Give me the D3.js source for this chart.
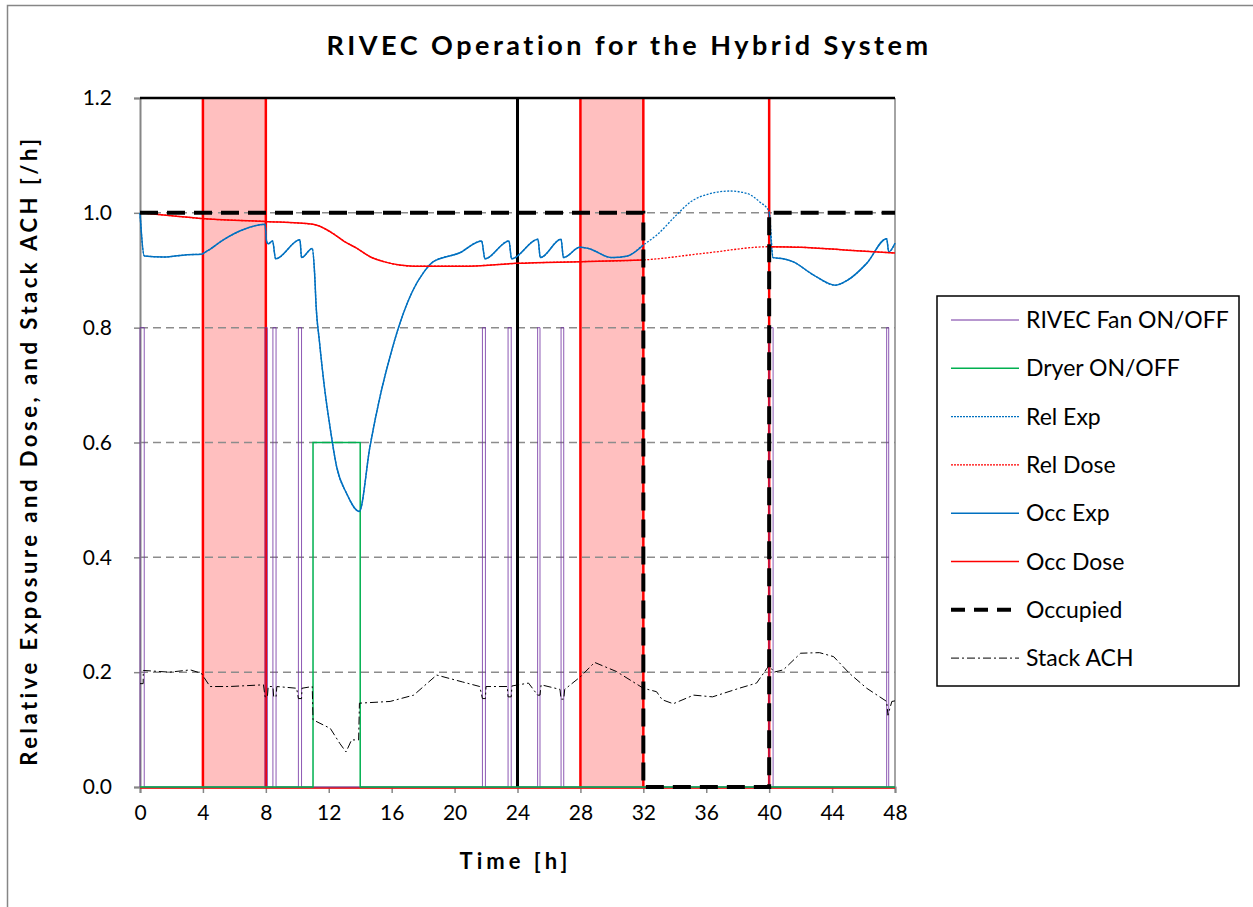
<!DOCTYPE html>
<html>
<head>
<meta charset="utf-8">
<script src="https://cdn.jsdelivr.net/npm/d3@7"></script>
<style>
  body { margin: 0; background: #fff; }
  svg text { font-family: Lato, "Open Sans", sans-serif; fill: #000; }
</style>
</head>
<body>
<div class="canvas"></div>
<script>
// ---- data ----
const xTicks = [0, 4, 8, 12, 16, 20, 24, 28, 32, 36, 40, 44, 48];
const yTicks = [0, 0.2, 0.4, 0.6, 0.8, 1.0, 1.2];

// [time h, value]
const exposure = [
  [0,1.0],[0.27,0.925],[1.5,0.923],[3,0.927],[3.9,0.928],[4.3,0.934],[5.3,0.953],[6.5,0.97],[7.95,0.98],
  [8.05,0.95],[8.15,0.946],[8.43,0.951],[8.62,0.92],[10.17,0.953],[10.27,0.922],[10.95,0.938],
  [11.1,0.895],[11.2,0.836],[11.4,0.778],[11.75,0.691],[12.08,0.627],[12.5,0.558],[13.14,0.511],[13.94,0.48],
  [14.62,0.593],[15.26,0.68],[15.89,0.749],[16.53,0.808],[17.37,0.866],[18,0.895],[18.65,0.915],[20.3,0.93],
  [21.72,0.951],[21.93,0.92],[23.46,0.951],[23.62,0.92],[25.3,0.954],[25.45,0.922],[26.77,0.954],[26.92,0.922],
  [27.97,0.94],[28.5,0.938],[30,0.922],[31,0.925],[32,0.944],[32.84,0.961],[34.1,0.996],[35,1.019],[36.2,1.033],
  [37.5,1.038],[38.57,1.034],[39.4,1.019],[40,1.002],[40.25,0.922],[40.9,0.92],[41.5,0.915],[42.8,0.892],
  [44.2,0.874],[45,0.883],[46.2,0.912],[47.47,0.955],[47.6,0.932],[48,0.947]
];
const dose = [
  [0,1.0],[2,0.995],[3.92,0.99],[7.95,0.985],[11,0.98],[12.1,0.967],[13,0.95],[13.8,0.938],[14.6,0.924],
  [15.5,0.915],[16.5,0.909],[17.4,0.907],[20.5,0.907],[23.95,0.912],[28,0.915],[32,0.918],[36,0.93],
  [40,0.941],[42,0.94],[45,0.935],[48,0.93]
];
const stackAch = [
  [0,0.18],[0.2,0.18],[0.21,0.203],[1.9,0.2],[3.2,0.204],[3.9,0.198],[4.45,0.175],[5.7,0.175],[7.85,0.178],
  [7.95,0.157],[8.1,0.157],[8.15,0.175],[8.45,0.175],[8.5,0.157],[8.65,0.157],[8.7,0.175],[9.96,0.172],
  [10.07,0.154],[10.27,0.154],[10.3,0.172],[10.95,0.175],[11.0,0.117],[12.1,0.102],[12.7,0.076],[13.1,0.061],
  [13.45,0.082],[13.9,0.082],[13.95,0.146],[15.9,0.149],[17.4,0.16],[18.86,0.195],[20.5,0.183],[21.6,0.175],
  [21.77,0.154],[21.96,0.154],[22.0,0.175],[23.35,0.175],[23.4,0.157],[23.6,0.157],[23.65,0.176],[24.7,0.181],
  [25.28,0.16],[25.43,0.16],[25.5,0.178],[26.7,0.17],[26.77,0.153],[26.94,0.153],[27,0.17],[28,0.192],
  [28.9,0.217],[30.3,0.201],[32,0.172],[32.84,0.166],[33.2,0.152],[33.9,0.145],[35.2,0.16],[36.4,0.157],
  [38.1,0.172],[39.2,0.181],[40,0.212],[40.3,0.2],[40.9,0.204],[42,0.233],[43.2,0.234],[44.1,0.227],
  [45.1,0.198],[46.2,0.172],[47.47,0.149],[47.55,0.125],[47.8,0.149],[48,0.15]
];
const fanOn = [[0,0.27],[7.95,8.1],[8.45,8.65],[10.07,10.27],[21.77,21.96],[23.4,23.6],[25.28,25.43],[26.77,26.94],[40.0,40.25],[47.47,47.6]];
const fanLevel = 0.8;
const dryerOn = [[11,14]];
const dryerLevel = 0.6;
const occupied = [[0,1],[32,1],[32,0],[40,0],[40,1],[48,1]];
const shadeBands = [[4,8],[28,32]];
const redMarks = [4, 8, 28, 32, 40];
const blackMarks = [24];

const legendItems = [
  {name:'RIVEC Fan ON/OFF', color:'#7030A0', width:1, dash:null},
  {name:'Dryer ON/OFF', color:'#00B050', width:1.5, dash:null},
  {name:'Rel Exp', color:'#0070C0', width:1.2, dash:'2,1'},
  {name:'Rel Dose', color:'#FF0000', width:1.2, dash:'2,1'},
  {name:'Occ Exp', color:'#0070C0', width:1.5, dash:null},
  {name:'Occ Dose', color:'#FF0000', width:1.5, dash:null},
  {name:'Occupied', color:'#000', width:4, dash:'14,9'},
  {name:'Stack ACH', color:'#000', width:1, dash:'8,3,2,3'}
];

// ---- layout ----
const W = 1253, H = 907;
const plot = {left:140, top:98, width:755, height:689};

const svg = d3.select('.canvas').append('svg')
  .attr('width', W).attr('height', H);

svg.append('rect')
  .attr('x', 7.5).attr('y', 5.5).attr('width', W).attr('height', H)
  .attr('fill', '#fff').attr('stroke', '#868686').attr('stroke-width', 1.5);

const x = d3.scaleLinear().domain([0, 48]).range([0, plot.width]);
const y = d3.scaleLinear().domain([0, 1.2]).range([plot.height, 0]);

const graph = svg.append('g').attr('transform', `translate(${plot.left},${plot.top})`);

// step series from on/off intervals
const pulses = (ons, level) => {
  const pts = [[0, 0]];
  ons.forEach(([a, b]) => { pts.push([a, 0], [a, level], [b, level], [b, 0]); });
  pts.push([48, 0]);
  return pts;
};

// shaded bands
graph.selectAll('rect.band').data(shadeBands).enter().append('rect')
  .attr('class', 'band')
  .attr('x', d => x(d[0])).attr('y', y(1.2))
  .attr('width', d => x(d[1]) - x(d[0])).attr('height', y(0) - y(1.2))
  .attr('fill', '#FFBFBF');

// gridlines
graph.selectAll('line.grid').data(yTicks.filter(v => v > 0 && v < 1.2)).enter().append('line')
  .attr('class', 'grid')
  .attr('x1', 0).attr('x2', plot.width)
  .attr('y1', d => y(d)).attr('y2', d => y(d))
  .attr('stroke', '#8c8c8c').attr('stroke-width', 1.5).attr('stroke-dasharray', '8,5');

// right frame
graph.append('line')
  .attr('x1', plot.width).attr('x2', plot.width).attr('y1', 0).attr('y2', plot.height)
  .attr('stroke', '#868686').attr('stroke-width', 1.5);

// axes
const xAxis = graph.append('g').attr('transform', `translate(0,${plot.height})`)
  .call(d3.axisBottom(x).tickValues(xTicks).tickSize(6).tickPadding(12).tickFormat(d3.format('d')));
const yAxis = graph.append('g')
  .call(d3.axisLeft(y).tickValues(yTicks).tickSize(6).tickPadding(22).tickFormat(d3.format('.1f')));
[xAxis, yAxis].forEach(a => {
  a.select('.domain').attr('stroke', '#868686').attr('stroke-width', 2);
  a.selectAll('.tick line').attr('stroke', '#868686').attr('stroke-width', 1.5);
  a.selectAll('text').attr('font-size', 21).attr('fill', '#000');
});

const line = d3.line().x(d => x(d[0])).y(d => y(d[1]));
const smooth = d3.line().x(d => x(d[0])).y(d => y(d[1])).curve(d3.curveMonotoneX);

// red and black markers
graph.append('line')
  .attr('x1', 0).attr('x2', plot.width).attr('y1', y(0) + 1).attr('y2', y(0) + 1)
  .attr('stroke', '#FF0000').attr('stroke-width', 1.5);
graph.selectAll('line.red').data(redMarks).enter().append('line')
  .attr('class', 'red')
  .attr('x1', d => x(d)).attr('x2', d => x(d)).attr('y1', y(0)).attr('y2', y(1.2))
  .attr('stroke', '#FF0000').attr('stroke-width', 2.5);
graph.selectAll('line.blk').data(blackMarks).enter().append('line')
  .attr('class', 'blk')
  .attr('x1', d => x(d)).attr('x2', d => x(d)).attr('y1', y(0)).attr('y2', y(1.2))
  .attr('stroke', '#000').attr('stroke-width', 3);
graph.append('line')
  .attr('x1', 0).attr('x2', plot.width).attr('y1', y(1.2)).attr('y2', y(1.2))
  .attr('stroke', '#000').attr('stroke-width', 2.5);

// fan and dryer
graph.append('path').datum(pulses(fanOn, fanLevel))
  .attr('d', line).attr('fill', 'none').attr('stroke', '#7030A0').attr('stroke-width', 1).attr('opacity', 0.8);
graph.append('path').datum(pulses(dryerOn, dryerLevel))
  .attr('d', line).attr('fill', 'none').attr('stroke', '#00B050').attr('stroke-width', 1.5);

// relative (dotted, whole period) and occupant (solid, occupied only)
const isOcc = d => d[0] <= 32 || d[0] >= 40;
graph.append('path').datum(exposure)
  .attr('d', smooth).attr('fill', 'none').attr('stroke', '#0070C0').attr('stroke-width', 1.3).attr('stroke-dasharray', '2,1.5');
graph.append('path').datum(dose)
  .attr('d', smooth).attr('fill', 'none').attr('stroke', '#FF0000').attr('stroke-width', 1.3).attr('stroke-dasharray', '2,1.5');
graph.append('path').datum(exposure)
  .attr('d', smooth.defined(isOcc)).attr('fill', 'none').attr('stroke', '#0070C0').attr('stroke-width', 1.5);
graph.append('path').datum(dose)
  .attr('d', smooth.defined(isOcc)).attr('fill', 'none').attr('stroke', '#FF0000').attr('stroke-width', 1.5);

// occupied
graph.append('path').datum(occupied)
  .attr('d', line).attr('fill', 'none').attr('stroke', '#000').attr('stroke-width', 4).attr('stroke-dasharray', '18,9');

// stack ach
graph.append('path').datum(stackAch)
  .attr('d', line).attr('fill', 'none').attr('stroke', '#000').attr('stroke-width', 1).attr('stroke-dasharray', '8,3,2,3');

// titles
svg.append('text')
  .attr('x', 629).attr('y', 55).attr('text-anchor', 'middle')
  .attr('font-size', 27).attr('font-weight', 'bold').attr('letter-spacing', 3.5)
  .text('RIVEC Operation for the Hybrid System');
svg.append('text')
  .attr('x', plot.left + plot.width / 2 - 2).attr('y', 869).attr('text-anchor', 'middle')
  .attr('font-size', 22).attr('font-weight', 'bold').attr('letter-spacing', 4)
  .text('Time [h]');
svg.append('text')
  .attr('transform', `translate(37,${plot.top + plot.height / 2 + 8}) rotate(-90)`)
  .attr('text-anchor', 'middle')
  .attr('font-size', 22).attr('font-weight', 'bold').attr('letter-spacing', 3.5)
  .text('Relative Exposure and Dose, and Stack ACH [/h]');

// legend
const legend = svg.append('g').attr('transform', 'translate(937,296)');
legend.append('rect')
  .attr('width', 302).attr('height', 390)
  .attr('fill', '#fff').attr('stroke', '#000').attr('stroke-width', 1.5);
const item = legend.selectAll('g.item').data(legendItems).enter().append('g')
  .attr('class', 'item')
  .attr('transform', (d, i) => `translate(0,${24 + i * 48.3})`);
item.append('line')
  .attr('x1', 14).attr('x2', 82)
  .attr('stroke', d => d.color).attr('stroke-width', d => d.width)
  .attr('stroke-dasharray', d => d.dash);
item.append('text')
  .attr('x', 89).attr('dy', '0.35em')
  .attr('font-size', 23)
  .text(d => d.name);
</script>
</body>
</html>
